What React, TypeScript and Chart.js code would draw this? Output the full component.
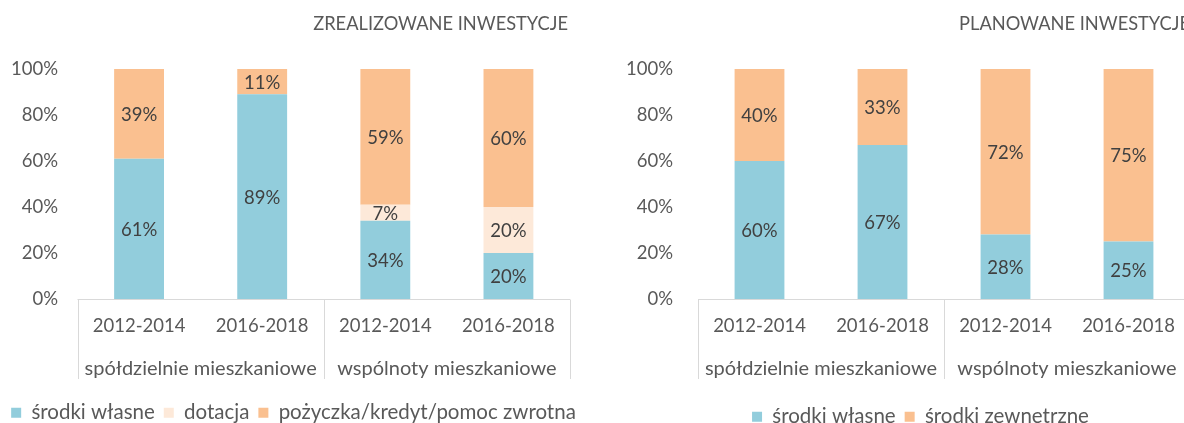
import React, { useEffect, useRef } from 'react';
import { Chart, registerables } from 'chart.js';

Chart.register(...registerables);

// ---------- data ----------
const PERIODS = ['2012-2014', '2016-2018', '2012-2014', '2016-2018'];
const GROUPS = ['spółdzielnie mieszkaniowe', 'wspólnoty mieszkaniowe'];
const Y_MIN = 0;
const Y_MAX = 100;
const Y_STEP = 20;

const REALIZED_TITLE = 'ZREALIZOWANE INWESTYCJE';
const REALIZED_SERIES_NAMES = ['środki własne', 'dotacja', 'pożyczka/kredyt/pomoc zwrotna'];
const REALIZED_OWN = [61, 89, 34, 20];
const REALIZED_GRANT = [0, 0, 7, 20];
const REALIZED_LOAN = [39, 11, 59, 60];

const PLANNED_TITLE = 'PLANOWANE INWESTYCJE';
const PLANNED_SERIES_NAMES = ['środki własne', 'środki zewnetrzne'];
const PLANNED_OWN = [60, 67, 28, 25];
const PLANNED_EXTERNAL = [40, 33, 72, 75];

// ---------- style ----------
const BLUE = '#92CDDC';
const LIGHT = '#FDE9D9';
const ORANGE = '#FAC090';
const TEXT = '#595959';
const LABEL_TEXT = '#404040';
const LINE = '#D9D9D9';
const FONT = 'Lato';
const FS = 18.5;
const FS_GROUP = 20;
const FS_LEGEND = 20.5;
const FS_TITLE = 18.25;

Chart.defaults.font.family = FONT;
Chart.defaults.color = TEXT;

const dataLabelsPlugin = {
  id: 'segLabels',
  afterDatasetsDraw(chart: any) {
    const { ctx } = chart;
    ctx.save();
    ctx.font = `${FS}px ${FONT}`;
    ctx.fillStyle = LABEL_TEXT;
    ctx.textAlign = 'center';
    ctx.textBaseline = 'middle';
    chart.data.datasets.forEach((ds: any, di: number) => {
      const meta = chart.getDatasetMeta(di);
      meta.data.forEach((el: any, i: number) => {
        const v = ds.data[i];
        if (!v) return;
        const p = el.getProps(['x', 'y', 'base'], true);
        ctx.fillText(`${v}%`, p.x, (p.y + p.base) / 2 + 1);
      });
    });
    ctx.restore();
  },
};

const axisBoxPlugin = {
  id: 'axisBox',
  afterDraw(chart: any) {
    const { ctx } = chart;
    const x = chart.scales.x;
    const x2 = chart.scales.x2;
    const top = Math.round(chart.chartArea.bottom) + 0.5;
    const bottom = x2.top + 30;
    ctx.save();
    ctx.strokeStyle = LINE;
    ctx.lineWidth = 1;
    ctx.beginPath();
    ctx.moveTo(x.left, top);
    ctx.lineTo(x.right, top);
    for (let i = 0; i <= GROUPS.length; i++) {
      const px = Math.round(x2.getPixelForValue(i - 0.5)) + 0.5;
      ctx.moveTo(px, top);
      ctx.lineTo(px, bottom);
    }
    ctx.stroke();
    ctx.restore();
  },
};

const cornerTitlePlugin = {
  id: 'cornerTitle',
  afterDraw(chart: any, _args: any, opts: any) {
    const { ctx } = chart;
    ctx.save();
    ctx.font = `${FS_TITLE}px ${FONT}`;
    ctx.fillStyle = TEXT;
    ctx.textAlign = 'right';
    ctx.textBaseline = 'middle';
    ctx.fillText(opts.text, chart.chartArea.right + opts.dx, opts.y);
    ctx.restore();
  },
};

type Layout = {
  padL: number;
  yWidth: number;
  yPad: number;
  rightWidth: number;
  x2Height: number;
  titleDx: number;
};

function makeConfig(title: string, datasets: any[], lay: Layout): any {
  return {
    type: 'bar',
    data: { labels: PERIODS, datasets },
    options: {
      responsive: false,
      animation: false,
      layout: { padding: { left: lay.padL, right: 0, top: 69, bottom: 0 } },
      plugins: {
        title: { display: false },
        cornerTitle: { text: title, dx: lay.titleDx, y: 24 },
        legend: {
          display: true,
          position: 'bottom',
          labels: {
            color: TEXT,
            font: { family: FONT, size: FS_LEGEND },
            boxWidth: 10,
            boxHeight: 10,
            padding: 9,
          },
        },
        tooltip: { enabled: false },
      },
      scales: {
        x: {
          type: 'category',
          stacked: true,
          weight: 0,
          grid: { display: false, drawTicks: false },
          border: { display: false },
          ticks: {
            color: TEXT,
            font: { family: FONT, size: FS },
            padding: 15.6,
            maxRotation: 0,
            autoSkip: false,
          },
          afterFit: (s: any) => {
            s.height = 50;
          },
        },
        x2: {
          type: 'category',
          position: 'bottom',
          labels: GROUPS,
          offset: true,
          weight: 1,
          grid: { display: false, drawTicks: false },
          border: { display: false },
          ticks: {
            color: TEXT,
            font: { family: FONT, size: FS_GROUP },
            padding: 8,
            maxRotation: 0,
            autoSkip: false,
          },
          afterFit: (s: any) => {
            s.height = lay.x2Height;
          },
        },
        y: {
          stacked: true,
          min: Y_MIN,
          max: Y_MAX,
          grid: { display: false, drawTicks: false },
          border: { display: false },
          ticks: {
            stepSize: Y_STEP,
            color: TEXT,
            font: { family: FONT, size: FS },
            padding: lay.yPad,
            callback: (v: any) => `${v}%`,
          },
          afterFit: (s: any) => {
            s.width = lay.yWidth;
          },
        },
        yR: {
          type: 'linear',
          position: 'right',
          display: true,
          grid: { display: false, drawTicks: false },
          border: { display: false },
          ticks: { display: false },
          afterFit: (s: any) => {
            s.width = lay.rightWidth;
          },
        },
      },
      datasets: {
        bar: { barPercentage: 0.405, categoryPercentage: 1, borderWidth: 0 },
      },
    },
    plugins: [dataLabelsPlugin, axisBoxPlugin, cornerTitlePlugin],
  };
}

function ChartCanvas({ cfg, left, width, height }: { cfg: any; left: number; width: number; height: number }) {
  const ref = useRef<HTMLCanvasElement>(null);
  useEffect(() => {
    const chart = new Chart(ref.current as HTMLCanvasElement, cfg);
    return () => chart.destroy();
  }, []);
  return (
    <canvas
      ref={ref}
      width={width}
      height={height}
      style={{ position: 'absolute', left, top: 0, width, height, display: 'block' }}
    />
  );
}

export default function App() {
  // left chart: canvas x 0..587, plot 77.5..570
  const realized = makeConfig(
    REALIZED_TITLE,
    [
      { label: REALIZED_SERIES_NAMES[0], data: REALIZED_OWN, backgroundColor: BLUE },
      { label: REALIZED_SERIES_NAMES[1], data: REALIZED_GRANT, backgroundColor: LIGHT },
      { label: REALIZED_SERIES_NAMES[2], data: REALIZED_LOAN, backgroundColor: ORANGE },
    ],
    { padL: 0, yWidth: 77.5, yPad: 19.5, rightWidth: 17, x2Height: 44.5, titleDx: -2 }
  );
  // right chart: canvas x 610..1221, plot 698..1190
  const planned = makeConfig(
    PLANNED_TITLE,
    [
      { label: PLANNED_SERIES_NAMES[0], data: PLANNED_OWN, backgroundColor: BLUE },
      { label: PLANNED_SERIES_NAMES[1], data: PLANNED_EXTERNAL, backgroundColor: ORANGE },
    ],
    { padL: 10, yWidth: 78, yPad: 25, rightWidth: 31, x2Height: 48.5, titleDx: 0 }
  );
  return (
    <div
      style={{
        position: 'absolute',
        left: 0,
        top: 0,
        width: 1184,
        height: 423,
        overflow: 'hidden',
        background: '#ffffff',
      }}
    >
      <ChartCanvas cfg={realized} left={0} width={587} height={433} />
      <ChartCanvas cfg={planned} left={610} width={611} height={437} />
    </div>
  );
}
